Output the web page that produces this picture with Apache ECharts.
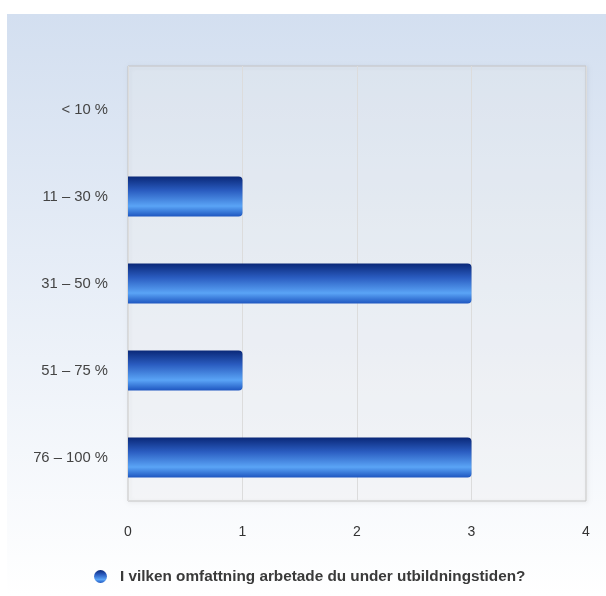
<!DOCTYPE html>
<html><head><meta charset="utf-8">
<script src="https://cdn.jsdelivr.net/npm/echarts@6/dist/echarts.min.js"></script>
<style>html,body{margin:0;padding:0;background:#fff}#c{width:606px;height:596px}</style>
</head><body><div id="c"></div>
<script>
var categories = ['< 10 %', '11 – 30 %', '31 – 50 %', '51 – 75 %', '76 – 100 %'];
var values = [0, 1, 3, 1, 3];
var seriesName = 'I vilken omfattning arbetade du under utbildningstiden?';
var xTicks = [0, 1, 2, 3, 4];

var chart = echarts.init(document.getElementById('c'), null, {renderer: 'canvas'});
var barGrad = new echarts.graphic.LinearGradient(0, 0, 0, 1, [
  {offset: 0, color: '#0a2878'},
  {offset: 0.35, color: '#2a5cc0'},
  {offset: 0.74, color: '#5aa4f6'},
  {offset: 1, color: '#1e56c0'}
]);
var FONT = 'Liberation Sans, Arial, sans-serif';
chart.setOption({
  animation: false,
  textStyle: {fontFamily: FONT},
  graphic: [{
    type: 'rect', z: -10, silent: true,
    shape: {x: 7, y: 14, width: 599, height: 582},
    style: {fill: new echarts.graphic.LinearGradient(0, 0, 0, 1, [
      {offset: 0, color: '#d3dff0'},
      {offset: 1, color: '#ffffff'}
    ])}
  }],
  grid: {
    left: 128, top: 66, width: 458, height: 435,
    show: true,
    backgroundColor: 'rgba(255,255,255,0.25)',
    borderColor: '#c4c4c4', borderWidth: 1,
    shadowColor: 'rgba(0,0,0,0.12)', shadowBlur: 4, shadowOffsetX: 1, shadowOffsetY: 1,
    containLabel: false
  },
  legend: {
    bottom: 7, left: 89,
    icon: 'circle', itemWidth: 13, itemHeight: 13, itemGap: 13,
    textStyle: {fontSize: 15.3, fontWeight: 'bold', color: '#3a3a3a', fontFamily: FONT, padding: [0, 0, 0, 8]},
    data: [seriesName]
  },
  xAxis: {
    type: 'value', min: 0, max: 4, interval: 1,
    axisLine: {show: false}, axisTick: {show: false},
    splitLine: {show: true, lineStyle: {color: '#dcdcdc', width: 1}},
    axisLabel: {color: '#333', fontSize: 14, margin: 24, fontFamily: FONT,
      formatter: function (v) { return xTicks.indexOf(v) >= 0 ? String(v) : ''; }}
  },
  yAxis: {
    type: 'category', data: categories, inverse: true,
    axisLine: {show: false}, axisTick: {show: false},
    axisLabel: {color: '#444', fontSize: 14.8, margin: 20, fontFamily: FONT}
  },
  series: [{
    name: seriesName, type: 'bar', data: values,
    barWidth: 40,
    itemStyle: {color: barGrad, borderRadius: [0, 4, 4, 0]}
  }]
});
</script></body></html>
